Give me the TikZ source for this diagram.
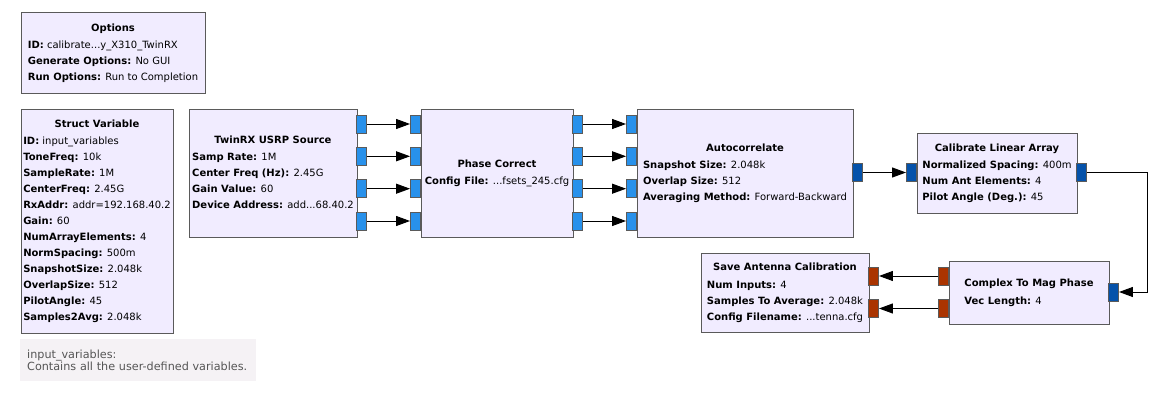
\documentclass[tikz,border=0pt]{standalone}
\usepackage{fontspec}
\setmainfont{DejaVu Sans}
\usetikzlibrary{arrows.meta}
\definecolor{blockFill}{RGB}{241,236,255}
\definecolor{blockBorder}{RGB}{90,90,90}
\definecolor{noteFill}{RGB}{245,242,245}
\definecolor{noteText}{RGB}{85,85,85}
\definecolor{cpx}{RGB}{40,145,235}
\definecolor{cpxVec}{RGB}{5,82,170}
\definecolor{fltVec}{RGB}{170,52,0}
\newcommand{\prm}[2]{\textbf{#1:} #2}
\newcommand{\ttl}[1]{\multicolumn{1}{@{}c@{}}{\textbf{#1}}\\[1.5pt]}

\begin{document}
\begin{tikzpicture}
[x=1pt,y=-1pt,
  blockDecorate/.style={draw=blockBorder,fill=blockFill,line width=1pt,anchor=north west,inner sep=0pt},
  portDecorate/.style={draw=blockBorder,line width=0.9pt,minimum width=10pt,minimum height=18pt,inner sep=0pt},
  lineDecorate/.style={-{Triangle[length=14pt,width=10pt]},line width=1pt},
  font=\fontsize{10}{16}\selectfont]
\useasboundingbox (0,0) rectangle (1166,404);
%% blocks
\node (options) at (20.5,12.5) [blockDecorate,minimum width=184pt,minimum height=80pt]
  {\begin{tabular}{@{}l@{}}\ttl{Options}
   \prm{ID}{calibrate...y\_X310\_TwinRX}\\
   \prm{Generate Options}{No GUI}\\
   \prm{Run Options}{Run to Completion}
   \end{tabular}};
\node (struct) at (20.5,108.5) [blockDecorate,minimum width=152pt,minimum height=224pt]
  {\begin{tabular}{@{}l@{}}\ttl{Struct Variable}
   \prm{ID}{input\_variables}\\
   \prm{ToneFreq}{10k}\\
   \prm{SampleRate}{1M}\\
   \prm{CenterFreq}{2.45G}\\
   \prm{RxAddr}{addr=192.168.40.2}\\
   \prm{Gain}{60}\\
   \prm{NumArrayElements}{4}\\
   \prm{NormSpacing}{500m}\\
   \prm{SnapshotSize}{2.048k}\\
   \prm{OverlapSize}{512}\\
   \prm{PilotAngle}{45}\\
   \prm{Samples2Avg}{2.048k}
   \end{tabular}};
\node (note) at (20,339) [anchor=north west,fill=noteFill,text=noteText,minimum height=41.5pt,
  text width=222pt,inner xsep=7pt,inner ysep=0pt,align=left,font=\fontsize{11.2}{12}\selectfont]
  {input\_variables:\\Contains all the user-defined variables.};
\node (twinrx) at (188.5,108.5) [blockDecorate,minimum width=168pt,minimum height=128pt]
  {\begin{tabular}{@{}l@{}}\ttl{TwinRX USRP Source}
   \prm{Samp Rate}{1M}\\
   \prm{Center Freq (Hz)}{2.45G}\\
   \prm{Gain Value}{60}\\
   \prm{Device Address}{add...68.40.2}
   \end{tabular}};
\node (phase) at (420.5,108.5) [blockDecorate,minimum width=152pt,minimum height=128pt]
  {\begin{tabular}{@{}l@{}}\ttl{Phase Correct}
   \prm{Config File}{...fsets\_245.cfg}
   \end{tabular}};
\node (autocorr) at (636.5,108.5) [blockDecorate,minimum width=216pt,minimum height=128pt]
  {\begin{tabular}{@{}l@{}}\ttl{Autocorrelate}
   \prm{Snapshot Size}{2.048k}\\
   \prm{Overlap Size}{512}\\
   \prm{Averaging Method}{Forward-Backward}
   \end{tabular}};
\node (calib) at (916.5,132.5) [blockDecorate,minimum width=160pt,minimum height=80pt]
  {\begin{tabular}{@{}l@{}}\ttl{Calibrate Linear Array}
   \prm{Normalized Spacing}{400m}\\
   \prm{Num Ant Elements}{4}\\
   \prm{Pilot Angle (Deg.)}{45}
   \end{tabular}};
\node (magphase) at (948.5,260.5) [blockDecorate,minimum width=160pt,minimum height=63pt]
  {\begin{tabular}{@{}l@{}}\ttl{Complex To Mag Phase}
   \prm{Vec Length}{4}
   \end{tabular}};
\node (save) at (700.5,252.5) [blockDecorate,minimum width=168pt,minimum height=79pt]
  {\begin{tabular}{@{}l@{}}\ttl{Save Antenna Calibration}
   \prm{Num Inputs}{4}\\
   \prm{Samples To Average}{2.048k}\\
   \prm{Config Filename}{...tenna.cfg}
   \end{tabular}};
%% ports
\foreach \portname/\x/\y/\pcol in {
  tw0/361.5/124/cpx, tw1/361.5/156.3/cpx, tw2/361.5/188.7/cpx, tw3/361.5/221/cpx,
  pi0/415.5/124/cpx, pi1/415.5/156.3/cpx, pi2/415.5/188.7/cpx, pi3/415.5/221/cpx,
  po0/577.5/124/cpx, po1/577.5/156.3/cpx, po2/577.5/188.7/cpx, po3/577.5/221/cpx,
  ai0/631.5/124/cpx, ai1/631.5/156.3/cpx, ai2/631.5/188.7/cpx, ai3/631.5/221/cpx,
  ao/857.5/172.5/cpxVec, ci/911.5/172.5/cpxVec, co/1081.5/172.5/cpxVec,
  mo/1113.5/292/cpxVec, mi0/943.5/276/fltVec, mi1/943.5/308.5/fltVec,
  si0/873.5/276/fltVec, si1/873.5/308.5/fltVec}
{
  \node (\portname) at (\x,\y) [portDecorate,fill=\pcol] {};
}
%% connections
\path
\foreach \startnode/\endnode in {
  tw0/pi0, tw1/pi1, tw2/pi2, tw3/pi3, po0/ai0, po1/ai1, po2/ai2, po3/ai3,
  ao/ci, mi0/si0, mi1/si1}
{
  (\startnode) edge[lineDecorate] (\endnode)
};
\coordinate (bend) at (1147.5,172.5);
\draw[lineDecorate] (co) -- (bend) |- (mo);
\end{tikzpicture}
\end{document}
